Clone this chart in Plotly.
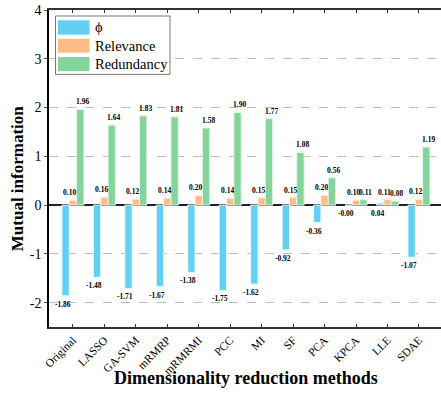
import plotly.graph_objects as go

methods = ["Original", "LASSO", "GA-SVM", "mRMRP", "mRMRMI", "PCC", "MI", "SF", "PCA", "KPCA", "LLE", "SDAE"]
phi = [-1.86, -1.48, -1.71, -1.67, -1.38, -1.75, -1.62, -0.92, -0.36, -0.003, 0.04, -1.07]
relevance = [0.10, 0.16, 0.12, 0.14, 0.20, 0.14, 0.15, 0.15, 0.20, 0.10, 0.11, 0.12]
redundancy = [1.96, 1.64, 1.83, 1.81, 1.58, 1.90, 1.77, 1.08, 0.56, 0.11, 0.08, 1.19]
series_names = ["\u03d5", "Relevance", "Redundancy"]
colors = ["#62D0F2", "#FDBC86", "#84D49B"]
edge_colors = ["#E8F8FD", "#FFF0E2", "#E6F6EA"]
yticks = [-2, -1, 0, 1, 2, 3, 4]

SERIF = "Liberation Serif"
W, H = 441, 393
ML, MR, MT, MB = 49, 0, 9.5, 66
plot_w = W - ML - MR
plot_h = H - MT - MB
px_per_unit = 31.46
XR = [-0.76, -0.76 + plot_w / px_per_unit]
bargap = 0.3
bar_w_px = (1 - bargap) / 3 * px_per_unit

fig = go.Figure()
for vals, nm, c, ec in zip([phi, relevance, redundancy], series_names, colors, edge_colors):
    fig.add_trace(go.Bar(x=methods, y=vals, name=nm, marker=dict(color=c, line=dict(color=ec, width=1)), showlegend=False))

annotations = []
lab_font = dict(family=SERIF, size=7.5, color="black")
# value labels: phi below, others above (shifted slightly as in the reference)
for m, v in zip(methods, phi):
    annotations.append(dict(x=m, y=min(v, 0), xref="x", yref="y", text=f"<b>{v:.2f}</b>", showarrow=False,
                            yanchor="top", xshift=-bar_w_px - 3, yshift=-2, font=lab_font))
for m, v in zip(methods, relevance):
    annotations.append(dict(x=m, y=v, xref="x", yref="y", text=f"<b>{v:.2f}</b>", showarrow=False,
                            yanchor="bottom", xshift=-3, yshift=1, font=lab_font))
for m, v in zip(methods, redundancy):
    annotations.append(dict(x=m, y=v, xref="x", yref="y", text=f"<b>{v:.2f}</b>", showarrow=False,
                            yanchor="bottom", xshift=bar_w_px + 2, yshift=1, font=lab_font))

def px2x(sx):
    return (sx - ML) / plot_w
def py2y(sy):
    return (H - MB - sy) / plot_h

# custom legend (large swatches as in the reference)
shapes = [dict(type="rect", xref="paper", yref="paper", x0=px2x(55.5), x1=px2x(170), y0=py2y(74), y1=py2y(15.5),
               line=dict(color="#777777", width=1), fillcolor="white", layer="above")]
rows = [(19.3, 34.7), (37.7, 52.7), (56, 71.3)]
for (t, b), c, nm in zip(rows, colors, series_names):
    shapes.append(dict(type="rect", xref="paper", yref="paper", x0=px2x(57.3), x1=px2x(90), y0=py2y(b), y1=py2y(t),
                       line=dict(color="white", width=1), fillcolor=c, layer="above"))
    annotations.append(dict(x=px2x(93), y=py2y((t + b) / 2), xref="paper", yref="paper", text=nm, showarrow=False,
                            xanchor="left", yanchor="middle", font=dict(family=SERIF, size=14.5, color="black")))

# axis titles
annotations.append(dict(x=px2x(246), y=py2y(378), xref="paper", yref="paper", text="<b>Dimensionality reduction methods</b>",
                        showarrow=False, xanchor="center", yanchor="middle", font=dict(family=SERIF, size=18, color="black")))
annotations.append(dict(x=px2x(17), y=py2y(178), xref="paper", yref="paper", text="<b>Mutual information</b>", textangle=-90,
                        showarrow=False, xanchor="center", yanchor="middle", font=dict(family=SERIF, size=17, color="black")))

fig.update_layout(
    width=W, height=H,
    margin=dict(l=ML, r=MR, t=MT, b=MB, autoexpand=False),
    paper_bgcolor="white", plot_bgcolor="white",
    barmode="group", bargap=bargap, bargroupgap=0,
    font=dict(family=SERIF, color="black"),
    showlegend=False,
    annotations=annotations,
    shapes=shapes,
)
fig.update_xaxes(range=XR, tickangle=-45, tickfont=dict(family=SERIF, size=11.5, color="black"), automargin=False,
                 showline=True, linecolor="#333333", linewidth=2, mirror="ticks",
                 ticks="inside", ticklen=3, tickcolor="#333333")
fig.update_yaxes(range=[-2.5, 4], tickvals=yticks, ticktext=[str(t) for t in yticks], automargin=False,
                 tickfont=dict(family=SERIF, size=14, color="black"),
                 showline=True, linecolor="black", linewidth=1.5, mirror=False,
                 ticks="outside", ticklen=3, tickcolor="#555555",
                 showgrid=True, gridcolor="#BBBBBB", griddash="dash", gridwidth=1,
                 zeroline=True, zerolinecolor="#222222", zerolinewidth=1.5)

fig.write_html("out.html", post_script="document.body.style.margin='0';", config={"displayModeBar": False})
